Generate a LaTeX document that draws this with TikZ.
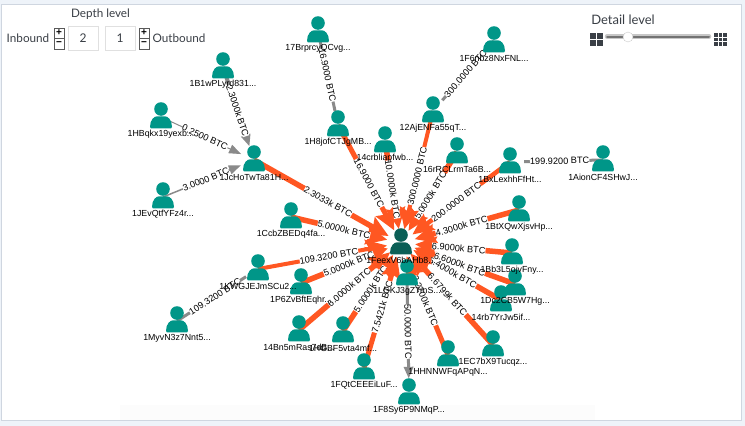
\documentclass[tikz,border=0pt]{standalone}
\usepackage{fontspec}
\setmainfont{Liberation Sans}
\newfontfamily\uifont{Lato}
\usetikzlibrary{arrows.meta}
\definecolor{pagebg}{HTML}{EEF3F9}
\definecolor{panelline}{HTML}{CFD6E0}
\definecolor{userteal}{HTML}{009688}
\definecolor{userdark}{HTML}{0B5F56}
\definecolor{flowline}{HTML}{FF5722}
\definecolor{hopline}{HTML}{8A8A8A}
\definecolor{uitext}{HTML}{3A3F46}
\tikzset{
	usercore/.style={circle,minimum size=28pt,inner sep=0pt},
	nametext/.style={font=\fontsize{8.8}{9}\selectfont,inner sep=0pt},
	edgetext/.style={font=\fontsize{9.2}{9}\selectfont,fill=white,inner sep=0pt,sloped,pos=0.55},
	flowedge/.style={draw=flowline,-{Stealth[length=21pt,width=19pt,inset=3pt]}},
	hopedge/.style={draw=hopline},
	hoptip/.style={-{Triangle[length=12pt,width=9pt]}},
	uilabel/.style={font=\uifont\fontsize{11.7}{12}\selectfont,text=uitext,inner sep=0pt},
	inputbox/.style={draw=black!12,minimum width=30pt,minimum height=24pt,inner sep=0pt,font=\uifont\fontsize{12}{12}\selectfont,text=uitext},
	stepcell/.style={draw=black!65,fill=white,minimum width=10.5pt,minimum height=10.5pt,inner sep=0pt,font=\bfseries\fontsize{10}{10}\selectfont},
}
\def\drawuser[#1](#2,#3){\begin{scope}[shift={(#2,#3)}]
	\fill[#1] (0,0) circle (6.8pt);
	\fill[#1] (-11,18) .. controls (-11,11) and (-7,7.3) .. (-4,7.3) -- (4,7.3) .. controls (7,7.3) and (11,11) .. (11,18) .. controls (11,19) and (10.5,19.4) .. (10,19.4) -- (-10,19.4) .. controls (-10.5,19.4) and (-11,19) .. (-11,18) -- cycle;
\end{scope}}
\def\userlist{bwpl/223/59/1B1wPLyrd831,hbqk/161/109/1HBqkx19yexb,jevq/163/189/1JEvQtfYFz4r,jcho/254/152/1JcHoTwTa81H,
	brpr/318/23/17BrprcyQCvg,hjof/338/117/1H8jofCTJgMB,crbl/385/133/14crbliapfwb,ajen/433/103/12AjENFa55qT,
	fnbz/494/33/1F6nbz8NxFNL,rrcl/457/144/16rRCLrmTa6B,bxle/510/154/1BxLexhhFfHt,aion/603/152/1AionCF4SHwJ,
	btxq/519/202/1BtXQwXjsvHp,bbjv/512/245/1Bb3L5ojvFny,dcbw/515/276/1Dc2CB5W7Hg,rbyr/501/292/14rb7YrJw5if,
	ecbx/493/337/1EC7bX9Tucqz,hhnn/448/347/1HHNNWFqAPqN,fsyp/409/385/1F8Sy6P9NMqP,lgkj/407/266/1LGKJ3gZ7mS,
	fqtc/364/360/1FQtCEEEiLuF,hgbf/343/323/1HGBF5vta4mf,bnmr/299/322/14Bn5mRas7dB,pzvb/301/275/1P6ZvBftEqhr,
	ccbz/291/209/1CcbZBEDq4fa,kwgj/258/261/1KWGJEJmSCu2,myvn/177/313/1MyvN3z7Nnt5}
\def\flowlist{jcho/5.5/2.3033k BTC,ccbz/5.5/5.0000k BTC,kwgj/4/109.3200 BTC,pzvb/5.5/5.0000k BTC,bnmr/5.5/6.0000k BTC,
	hgbf/5.5/5.0000k BTC,fqtc/5/7.5421k BTC,hhnn/5/2.2200k BTC,ecbx/5.5/6.6799k BTC,rbyr/5.5/5.4000k BTC,
	dcbw/5.5/6.6000k BTC,bbjv/5.5/6.9000k BTC,btxq/5.5/4.3000k BTC,bxle/4.5/200.0000 BTC,rrcl/5.5/5.0000k BTC,
	ajen/4/300.0000 BTC,crbl/5.5/10.0000k BTC,hjof/5/16.9000 BTC}
\begin{document}
\begin{tikzpicture}[x=1pt,y=-1pt]
	%%%%% START %%%%%
	\useasboundingbox (0,0) rectangle (745,426);
	\fill[pagebg] (0,0) rectangle (745,426);
	\draw[panelline,fill=white] (1.5,4) rectangle (741,420);
	\fill[black!1] (120,405) rectangle (595,419.5);

	% users, empty at first so that edges can end on them
	\foreach \nm/\x/\y/\txt in \userlist {
		\node[usercore] (\nm) at (\x,\y+8) {};
	}
	\node[usercore] (feex) at (401,243) {};

	% edges into the middle
	\foreach \src/\lw/\txt in \flowlist {
		\draw[flowedge,line width=\lw pt] (\src.center) -- node[edgetext] {\txt} (feex);
	}
	% edges one hop further out
	\draw[hopedge,hoptip,line width=4pt] (bwpl.center) -- node[edgetext] {2.3000k BTC} (jcho);
	\draw[hopedge,hoptip,line width=1pt] (hbqk.center) -- node[edgetext] {0.2500 BTC} (jcho);
	\draw[hopedge,hoptip,line width=1.5pt] (jevq.center) -- node[edgetext] {3.0000 BTC} (jcho);
	\draw[hopedge,hoptip,line width=3pt] (lgkj.center) -- node[edgetext] {50.0000 BTC} (fsyp);
	\draw[hopedge,line width=3pt] (brpr.center) -- node[edgetext] {16.9000 BTC} (hjof);
	\draw[hopedge,line width=3pt] (fnbz.center) -- node[edgetext] {300.0000 BTC} (ajen);
	\draw[hopedge,line width=3pt] (aion.center) -- node[edgetext] {199.9200 BTC} (bxle);
	\draw[hopedge,line width=3pt] (myvn.center) -- node[edgetext] {109.3200 BTC} (kwgj);

	% icons, then names on top
	\foreach \nm/\x/\y/\txt in \userlist {
		\drawuser[userteal](\x,\y)
	}
	\drawuser[userdark](401,235)
	\foreach \nm/\x/\y/\txt in \userlist {
		\node[nametext] (name\nm) at (\x,\y+25) {\txt...};
	}
	\node[nametext] (namefeex) at (401,260) {1FeexV6bAHb8...};

	% depth controls
	\node[uilabel] (depthlabel) at (100.5,14) {Depth level};
	\node[uilabel] (inbound) at (28,38) {Inbound};
	\node[uilabel] (outbound) at (179,38) {Outbound};
	\node[inputbox] (inval) at (83,38) {2};
	\node[inputbox] (outval) at (120,38) {1};
	\node[stepcell] (inplus) at (59,33) {+};
	\node[stepcell] (inminus) at (59,43.5) {−};
	\node[stepcell] (outplus) at (144,33) {+};
	\node[stepcell] (outminus) at (144,43.5) {−};

	% detail slider
	\node[uilabel,font=\uifont\fontsize{13}{13}\selectfont] (detaillabel) at (623,20) {Detail level};
	\foreach \i in {0,1} \foreach \j in {0,1} {
		\fill[uitext] (590+\i*6.7,33+\j*6.7) rectangle ++(6,6);
	}
	\foreach \i in {0,1,2} \foreach \j in {0,1,2} {
		\fill[uitext] (714+\i*4.5,33+\j*4.5) rectangle ++(3.8,3.8);
	}
	\draw[black!22,line width=4.5pt,line cap=round] (607,36.5) -- (709,36.5);
	\draw[black!55,line width=2pt,line cap=round] (607,36.5) -- (709,36.5);
	\node[circle,draw=black!20,fill=white,minimum size=10pt,inner sep=0pt] (thumb) at (628,37) {};
	%%%%% END %%%%%
\end{tikzpicture}
\end{document}
